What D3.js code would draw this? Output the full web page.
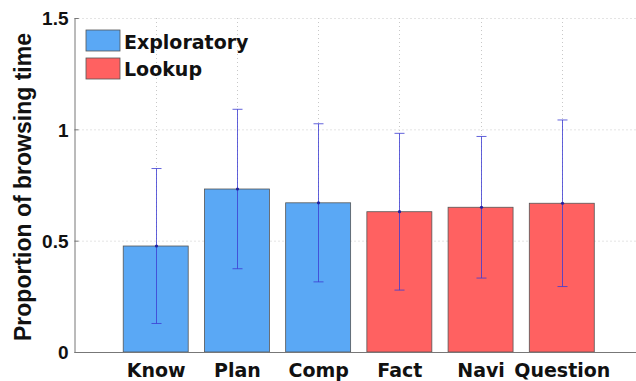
<!DOCTYPE html>
<html>
<head>
<meta charset="utf-8">
<script src="https://cdn.jsdelivr.net/npm/d3@7"></script>
<style>
  html, body { margin: 0; padding: 0; background: #fff; }
  svg { display: block; }
</style>
</head>
<body>
<svg id="chart" width="636" height="381"></svg>
<script>
// Task categories and their groups
const categories = ["Know", "Plan", "Comp", "Fact", "Navi", "Question"];
const groups = ["Exploratory", "Exploratory", "Exploratory", "Lookup", "Lookup", "Lookup"];
// Mean proportion of browsing time and its error (±)
const means = [0.476, 0.732, 0.670, 0.630, 0.650, 0.668];
const errors = [0.348, 0.358, 0.355, 0.352, 0.318, 0.374];
const yTicks = [0, 0.5, 1, 1.5];
const legendItems = ["Exploratory", "Lookup"];
const groupColors = { Exploratory: "#5aa8f5", Lookup: "#ff6161" };

const svg = d3.select("#chart");
const labelFont = "'DejaVu Sans', sans-serif";
const tickFont = "'Liberation Sans', Arial, sans-serif";

const x = d3.scaleLinear().domain([0, 7]).range([74.5, 643]);
const y = d3.scaleLinear().domain([0, 1.5]).range([352, 18]);
const barW = (x(1) - x(0)) * 0.8;

// dotted grid
const grid = svg.append("g").attr("stroke", "#c8c8c8").attr("stroke-width", 1)
  .attr("stroke-dasharray", "1,3");
grid.selectAll("line.h").data(yTicks.filter(d => d > 0)).join("line")
  .attr("x1", x(0)).attr("x2", 636)
  .attr("y1", d => y(d) + 0.5).attr("y2", d => y(d) + 0.5);
grid.selectAll("line.v").data(categories).join("line")
  .attr("x1", (d, i) => Math.round(x(i + 1)) + 0.5)
  .attr("x2", (d, i) => Math.round(x(i + 1)) + 0.5)
  .attr("y1", y(1.5)).attr("y2", y(0));

// bars
svg.append("g").selectAll("rect").data(categories).join("rect")
  .attr("x", (d, i) => x(i + 1) - barW / 2)
  .attr("width", barW)
  .attr("y", (d, i) => y(means[i]))
  .attr("height", (d, i) => y(0) - y(means[i]))
  .attr("fill", (d, i) => groupColors[groups[i]])
  .attr("stroke", "#555")
  .attr("stroke-width", 0.8);

// error bars
const eb = svg.append("g").attr("stroke", "#3c3cd2").attr("stroke-width", 1)
  .attr("stroke-opacity", 0.8);
categories.forEach((c, i) => {
  const cx = Math.round(x(i + 1)) + 0.5;
  const hi = y(means[i] + errors[i]), lo = y(means[i] - errors[i]);
  eb.append("line").attr("x1", cx).attr("x2", cx).attr("y1", hi).attr("y2", lo);
  eb.append("line").attr("x1", cx - 5).attr("x2", cx + 5).attr("y1", hi).attr("y2", hi);
  eb.append("line").attr("x1", cx - 5).attr("x2", cx + 5).attr("y1", lo).attr("y2", lo);
  svg.append("circle").attr("cx", cx).attr("cy", y(means[i])).attr("r", 1.6)
    .attr("fill", "#2020a0");
});

// axes
const yAxis = d3.axisLeft(y).tickValues(yTicks).tickSize(-4).tickPadding(6)
  .tickFormat(d => d3.format("")(d));
const gy = svg.append("g").attr("transform", `translate(${x(0)},0)`).call(yAxis);
gy.select(".domain").attr("stroke", "#777");
gy.selectAll(".tick line").attr("stroke", "#777");
gy.selectAll("text").attr("font-family", tickFont).attr("font-weight", "bold")
  .attr("font-size", 19).attr("fill", "#111").attr("dy", "0.36em");

svg.append("line").attr("x1", x(0)).attr("x2", 636)
  .attr("y1", y(0) + 0.5).attr("y2", y(0) + 0.5).attr("stroke", "#777");

const xAxis = d3.axisBottom(x).tickValues(categories.map((d, i) => i + 1))
  .tickSize(0).tickPadding(0).tickFormat(d => categories[d - 1]);
const gx = svg.append("g").attr("transform", `translate(0,${y(0)})`).call(xAxis);
gx.select(".domain").remove();
gx.selectAll("text").attr("font-family", labelFont).attr("font-weight", "bold")
  .attr("font-size", 19).attr("fill", "#111").attr("dy", null).attr("y", 25);

// y axis title
svg.append("text")
  .attr("transform", "translate(31,187) rotate(-90)")
  .attr("text-anchor", "middle")
  .attr("font-family", tickFont)
  .attr("font-weight", "bold").attr("font-size", 23).attr("fill", "#111")
  .text("Proportion of browsing time");

// legend
const lg = svg.append("g");
legendItems.forEach((name, i) => {
  lg.append("rect").attr("x", 86).attr("y", 30 + i * 28).attr("width", 34).attr("height", 21)
    .attr("fill", groupColors[name]).attr("stroke", "#555").attr("stroke-width", 0.8);
  lg.append("text").attr("x", 124).attr("y", 49 + i * 26.5)
    .attr("font-family", labelFont).attr("font-weight", "bold").attr("font-size", 19)
    .attr("fill", "#111").text(name);
});
</script>
</body>
</html>
